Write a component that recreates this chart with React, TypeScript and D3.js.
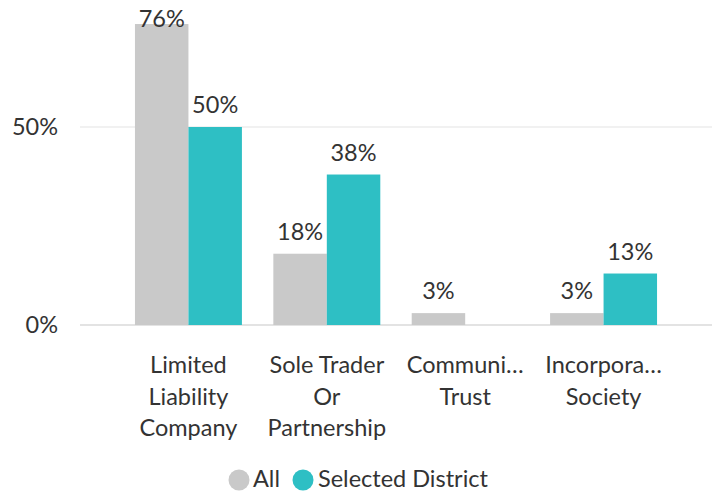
import React from "react";
import * as d3 from "d3";

const categories = ["Limited Liability Company", "Sole Trader Or Partnership", "Community Trust", "Incorporated Society"];
const categoryLines = [
  ["Limited", "Liability", "Company"],
  ["Sole Trader", "Or", "Partnership"],
  ["Communi…", "Trust"],
  ["Incorpora…", "Society"],
];
const seriesNames = ["All", "Selected District"];
const allValues = [76, 18, 3, 3];
const districtValues = [50, 38, null, 13];
const yTicks = [0, 50];
const colors = ["#c9c9c9", "#2ebfc4"];

const W = 712;
const H = 494;
const FONT = "Lato, 'Open Sans', sans-serif";
const FS = 23.5;

export default function App() {
  const y = d3.scaleLinear().domain([0, 50]).range([325, 127]);
  const x0 = d3
    .scaleBand<string>()
    .domain(categories)
    .range([119.25, 672.75])
    .paddingInner(0.227)
    .paddingOuter(0.1135);
  const x1 = d3.scaleBand<string>().domain(seriesNames).range([0, x0.bandwidth()]);
  const values = [allValues, districtValues];

  return (
    <svg width={W} height={H} style={{ position: "absolute", left: 0, top: 0 }} fontFamily={FONT}>
      {yTicks.map((t) => (
        <g key={t}>
          <line x1={80} x2={W} y1={y(t)} y2={y(t)} stroke="#e3e3e3" strokeWidth={t === 0 ? 2 : 1} />
          <text x={58} y={y(t)} dy="0.35em" textAnchor="end" fontSize={FS} fill="#333">
            {t}%
          </text>
        </g>
      ))}
      {categories.map((c, ci) => (
        <g key={c} transform={`translate(${x0(c)},0)`}>
          {seriesNames.map((s, si) => {
            const v = values[si][ci];
            if (v == null) return null;
            const top = y(v);
            const bx = x1(s)!;
            return (
              <g key={s}>
                <rect x={bx} y={top} width={x1.bandwidth()} height={y(0) - top} fill={colors[si]} />
                <text
                  x={bx + x1.bandwidth() / 2}
                  y={Math.max(top - 14, 27)}
                  textAnchor="middle"
                  fontSize={FS}
                  fill="#333"
                >
                  {v}%
                </text>
              </g>
            );
          })}
          {categoryLines[ci].map((ln, li) => (
            <text
              key={li}
              x={x0.bandwidth() / 2}
              y={373 + li * 31.5}
              textAnchor="middle"
              fontSize={FS}
              fill="#333"
            >
              {ln}
            </text>
          ))}
        </g>
      ))}
      <g>
        <circle cx={239} cy={480} r={10.5} fill={colors[0]} />
        <text x={253} y={487} fontSize={FS} fill="#333">
          {seriesNames[0]}
        </text>
        <circle cx={303} cy={480} r={10.5} fill={colors[1]} />
        <text x={318} y={487} fontSize={FS} fill="#333">
          {seriesNames[1]}
        </text>
      </g>
    </svg>
  );
}
